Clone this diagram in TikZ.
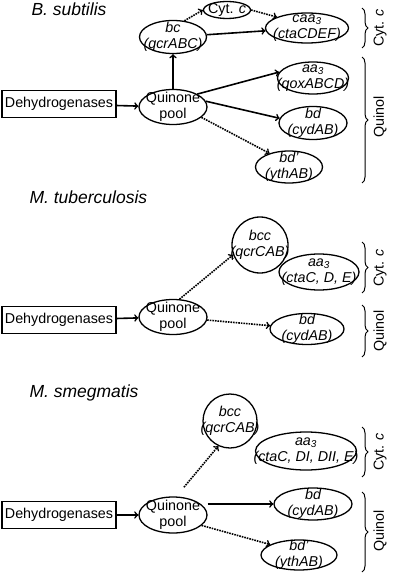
\documentclass[tikz,border=0pt]{standalone}
\usepackage{fontspec}
\setmainfont{Liberation Sans}
\usetikzlibrary{arrows,shapes.geometric,decorations.pathreplacing}

\begin{document}
\begin{tikzpicture}[x=1pt,y=-1pt,>=to,
    font=\fontsize{14.3}{16}\selectfont,
    box/.style={draw,line width=1.3pt,inner sep=0pt,minimum width=114pt,minimum height=27pt},
    pool/.style={ellipse,draw,line width=1.3pt,inner sep=-20pt,align=center,minimum width=68pt,minimum height=35pt},
    enz/.style={ellipse,draw,line width=1.3pt,inner sep=-20pt,align=center,font=\fontsize{14.3}{16}\selectfont\itshape},
    ring/.style={circle,draw,line width=1.3pt,inner sep=-20pt,align=center,font=\fontsize{14.3}{16}\selectfont\itshape},
    link/.style={->,line width=1.6pt},
    dotlink/.style={->,line width=1.6pt,densely dotted},
    curly/.style={decorate,decoration={brace,amplitude=6pt},line width=1pt},
    side/.style={rotate=90},
    title/.style={anchor=west,font=\fontsize{17.5}{19}\selectfont\itshape}]
  \useasboundingbox (0,0) rectangle (400,577);

  \node[title] (bsu) at (28,9) {B. subtilis};
  \node[box]  (deh1) at (59,104) {Dehydrogenases};
  \node[pool] (q1)   at (173,107) {Quinone\\pool};
  \node[enz,minimum width=67pt,minimum height=33pt] (bc1)  at (173,37)  {bc\\(qcrABC)};
  \node[ellipse,draw,line width=1.3pt,inner sep=-20pt,minimum width=47pt,minimum height=17pt] (cyt1) at (227,10) {Cyt. \textit{c}};
  \node[enz,minimum width=83pt,minimum height=30pt] (caa1) at (307,28)  {caa\textsubscript{3}\\(ctaCDEF)};
  \node[enz,minimum width=71pt,minimum height=32pt] (aa1)  at (313,78)  {aa\textsubscript{3}\\(qoxABCD)};
  \node[enz,minimum width=68pt,minimum height=33pt] (bd1)  at (313,123) {bd\\(cydAB)};
  \node[enz,minimum width=67pt,minimum height=32pt] (bdp1) at (289,167) {bd'\\(ythAB)};

  \draw[link]    (deh1)    to (q1);
  \draw[link]    (q1)      to (bc1);
  \draw[dotlink] (bc1.55)  to (cyt1.west);
  \draw[dotlink] (cyt1.east) to (caa1.160);
  \draw[link]    (bc1)     to (caa1);
  \draw[link]    (q1.28)   to (aa1.170);
  \draw[link]    (q1.10)   to (bd1.172);
  \draw[dotlink] (q1.340)  to (bdp1.145);

  \draw[curly] (362,8)  to node (bcy) {} (362,48);
  \draw[curly] (362,57) to node (bqu) {} (362,183);
  \node[side] (cyt1lbl) at (380,28)  {Cyt. \textit{c}};
  \node[side] (qui1lbl) at (380,117) {Quinol};

  \node[title] (mtb) at (26,197) {M. tuberculosis};
  \node[box]  (deh2) at (59,320) {Dehydrogenases};
  \node[pool] (q2)   at (173,317) {Quinone\\pool};
  \node[ring,minimum size=56pt] (bcc2) at (260,245) {bcc\\(qcrCAB)};
  \node[enz,minimum width=80pt,minimum height=36pt] (aa2) at (319,272) {aa\textsubscript{3}\\(ctaC, D, E)};
  \node[enz,minimum width=74pt,minimum height=31pt] (bd2) at (307,329) {bd\\(cydAB)};

  \draw[link]    (deh2)   to (q2);
  \draw[dotlink] (q2.70)  to (bcc2.200);
  \draw[dotlink] (q2)     to (bd2);

  \draw[curly] (362,242) to node (mcy) {} (362,293);
  \draw[curly] (362,305) to node (mqu) {} (362,357);
  \node[side] (cyt2lbl) at (380,268) {Cyt. \textit{c}};
  \node[side] (qui2lbl) at (380,331) {Quinol};

  \node[title] (msm) at (26,393) {M. smegmatis};
  \node[box]  (deh3) at (59,515) {Dehydrogenases};
  \node[pool,minimum height=36pt] (q3) at (173,515) {Quinone\\pool};
  \node[ring,minimum size=54pt] (bcc3) at (230,421) {bcc\\(qcrCAB)};
  \node[enz,minimum width=101pt,minimum height=38pt] (aa3) at (306,451) {aa\textsubscript{3}\\(ctaC, DI, DII, E)};
  \node[enz,minimum width=78pt,minimum height=32pt] (bd3)  at (313,504) {bd\\(cydAB)};
  \node[enz,minimum width=76pt,minimum height=30pt] (bdp3) at (299,555) {bd'\\(ythAB)};

  \draw[link]    (deh3) to (q3);
  \draw[dotlink,shorten <=12pt] (q3.80) to (bcc3.245);
  \draw[link]    (q3.east |- bd3.west) to (bd3.west);
  \draw[dotlink] (q3.340) to (bdp3.160);

  \draw[curly] (362,427) to node (scy) {} (362,477);
  \draw[curly] (362,492) to node (squ) {} (362,572);
  \node[side] (cyt3lbl) at (380,452) {Cyt. \textit{c}};
  \node[side] (qui3lbl) at (380,531) {Quinol};
\end{tikzpicture}
\end{document}
